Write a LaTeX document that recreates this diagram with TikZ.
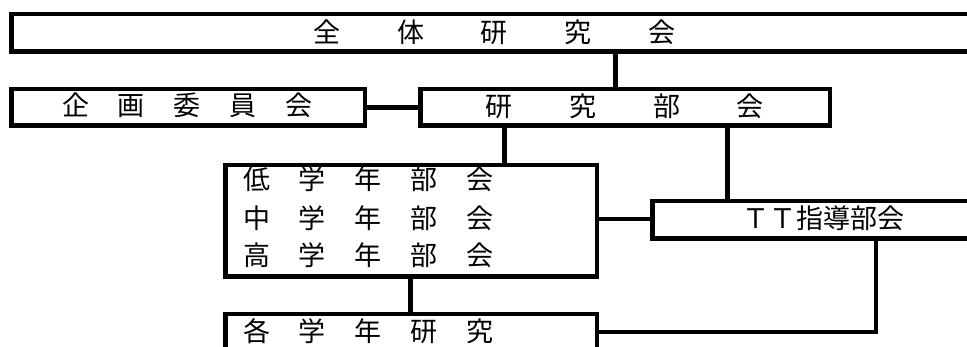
\documentclass[tikz,border=0pt]{standalone}
\usepackage{fontspec}
\newfontfamily\jp{Noto Sans CJK JP}
\begin{document}
\begin{tikzpicture}[x=1pt,y=-1pt,
  orgbox/.style={draw=black,line width=4.5pt,rectangle,inner sep=0pt,fill=none},
  conn/.style={draw=black,line width=4.5pt},
  jtxt/.style={font=\jp\fontsize{27}{31}\selectfont,inner sep=0pt,text height=0.88em,text depth=0.12em,anchor=center}]
\useasboundingbox (0,0) rectangle (967,347);
\clip (0,0) rectangle (967,347);
% texts (drawn first so that borders lie on top)
\node[jtxt] (t0) at (494.5,39) {全\hspace{57pt}体\hspace{57pt}研\hspace{57pt}究\hspace{57pt}会};
\node[jtxt] (t1) at (187.5,112) {企\hspace{29pt}画\hspace{29pt}委\hspace{29pt}員\hspace{29pt}会};
\node[jtxt] (t2) at (624.75,113) {研\hspace{56.8pt}究\hspace{56.8pt}部\hspace{56.8pt}会};
\node[jtxt] (t3) at (368.5,186) {低\hspace{29pt}学\hspace{29pt}年\hspace{29pt}部\hspace{29pt}会};
\node[jtxt] (t4) at (368.5,224.5) {中\hspace{29pt}学\hspace{29pt}年\hspace{29pt}部\hspace{29pt}会};
\node[jtxt] (t5) at (368.5,261.5) {高\hspace{29pt}学\hspace{29pt}年\hspace{29pt}部\hspace{29pt}会};
\node[jtxt] (t6) at (368.5,338) {各\hspace{29pt}学\hspace{29pt}年\hspace{29pt}研\hspace{29pt}究};
\node[jtxt] (t7) at (823,225) {ＴＴ指導部会};
% boxes
\node[orgbox,minimum width=966.5pt,minimum height=37.5pt] (zentai) at (494.5,33) {};
\node[orgbox,minimum width=353.5pt,minimum height=36.5pt] (kikaku) at (188,107.5) {};
\node[orgbox,minimum width=409.5pt,minimum height=36.5pt] (kenkyu) at (625,107.5) {};
\node[orgbox,minimum width=371.5pt,minimum height=111.5pt] (tei) at (411,221) {};
\node[orgbox,minimum width=335.5pt,minimum height=37.5pt] (tt) at (820,220) {};
\node[orgbox,minimum width=371.5pt,minimum height=63.5pt] (kaku) at (411,346) {};
% connector positions
\coordinate (c1) at (615.5,0);
\coordinate (c2) at (504.5,0);
\coordinate (c3) at (727.5,0);
\coordinate (c4) at (0,219);
\coordinate (c5) at (410.5,0);
\coordinate (c6) at (0,332);
\coordinate (c7) at (876,0);
% connectors
\draw[conn] (zentai.south -| c1) -- (kenkyu.north -| c1);
\draw[conn] (kikaku.east) -- (kenkyu.west);
\draw[conn] (kenkyu.south -| c2) -- (tei.north -| c2);
\draw[conn] (kenkyu.south -| c3) -- (tt.north -| c3);
\draw[conn] (tei.east |- c4) -- (tt.west |- c4);
\draw[conn] (tei.south -| c5) -- (kaku.north -| c5);
\draw[conn] (kaku.east |- c6) -| (tt.south -| c7);
\end{tikzpicture}
\end{document}
